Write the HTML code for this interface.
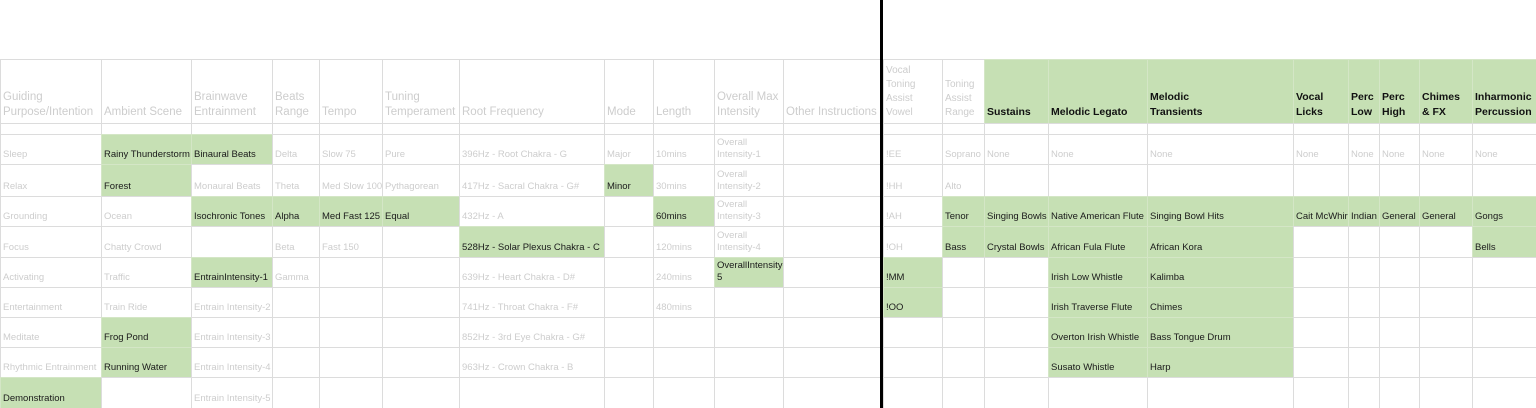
<!DOCTYPE html>
<html><head><meta charset="utf-8"><style>
html,body{margin:0;padding:0;background:#fff;}
body{width:1536px;height:408px;overflow:hidden;}
.grid{display:grid;grid-template-columns:101px 90px 81px 47px 63px 77px 145px 49px 61px 69px 97px 3px 59px 42px 64px 99px 146px 55px 31px 40px 53px 64px;grid-template-rows:59px 64px 11px 30px 32px 30px 31px 30px 30px 30px 30px 31px;width:1536px;height:408px;font-family:"Liberation Sans",Arial,sans-serif;font-size:9.5px;}
.grid>div{box-sizing:border-box;border-left:1px solid #dcdcdc;border-top:1px solid #dcdcdc;padding:0 2px 3px 2px;display:flex;align-items:flex-end;overflow:hidden;color:#cdcdcd;line-height:12px;white-space:nowrap;}
.grid>div.w{white-space:normal;}
.grid>div.g{background:#c6e0b4;color:#1a1a1a;border-color:#d4e6c6;}
.grid>div.k{background:#000;border:none;padding:0;}
.grid>div.t{border:none;}
.grid>div.h{font-size:11.5px;line-height:15px;white-space:normal;}
.grid>div.h.g{font-weight:bold;font-size:10.5px;color:#111;}
.grid>div.hs{font-size:10px;line-height:14px;white-space:normal;}
</style></head><body>
<div class="grid">
<div class="t"></div><div class="t"></div><div class="t"></div><div class="t"></div><div class="t"></div><div class="t"></div><div class="t"></div><div class="t"></div><div class="t"></div><div class="t"></div><div class="t"></div><div class="k"></div><div class="t"></div><div class="t"></div><div class="t"></div><div class="t"></div><div class="t"></div><div class="t"></div><div class="t"></div><div class="t"></div><div class="t"></div><div class="t"></div>

<div class="h">Guiding Purpose/Intention</div><div class="h">Ambient Scene</div><div class="h">Brainwave Entrainment</div><div class="h">Beats Range</div><div class="h">Tempo</div><div class="h">Tuning Temperament</div><div class="h">Root Frequency</div><div class="h">Mode</div><div class="h">Length</div><div class="h">Overall Max Intensity</div><div class="h">Other Instructions</div><div class="k"></div><div class="hs">Vocal Toning Assist Vowel</div><div class="hs">Toning Assist Range</div><div class="h g">Sustains</div><div class="h g">Melodic Legato</div><div class="h g">Melodic<br>Transients</div><div class="h g">Vocal Licks</div><div class="h g">Perc Low</div><div class="h g">Perc High</div><div class="h g">Chimes &amp; FX</div><div class="h g">Inharmonic Percussion</div>

<div></div><div></div><div></div><div></div><div></div><div></div><div></div><div></div><div></div><div></div><div></div><div class="k"></div><div></div><div></div><div></div><div></div><div></div><div></div><div></div><div></div><div></div><div></div>

<div>Sleep</div><div class="g">Rainy Thunderstorm</div><div class="g">Binaural Beats</div><div>Delta</div><div>Slow 75</div><div>Pure</div><div>396Hz - Root Chakra - G</div><div>Major</div><div>10mins</div><div class="w">Overall Intensity-1</div><div></div><div class="k"></div><div>!EE</div><div>Soprano</div><div>None</div><div>None</div><div>None</div><div>None</div><div>None</div><div>None</div><div>None</div><div>None</div>

<div>Relax</div><div class="g">Forest</div><div>Monaural Beats</div><div>Theta</div><div>Med Slow 100</div><div>Pythagorean</div><div>417Hz - Sacral Chakra - G#</div><div class="g">Minor</div><div>30mins</div><div class="w">Overall Intensity-2</div><div></div><div class="k"></div><div>!HH</div><div>Alto</div><div></div><div></div><div></div><div></div><div></div><div></div><div></div><div></div>

<div>Grounding</div><div>Ocean</div><div class="g">Isochronic Tones</div><div class="g">Alpha</div><div class="g">Med Fast 125</div><div class="g">Equal</div><div>432Hz - A</div><div></div><div class="g">60mins</div><div class="w">Overall Intensity-3</div><div></div><div class="k"></div><div>!AH</div><div class="g">Tenor</div><div class="g">Singing Bowls</div><div class="g">Native American Flute</div><div class="g">Singing Bowl Hits</div><div class="g">Cait McWhir</div><div class="g">Indian</div><div class="g">General</div><div class="g">General</div><div class="g">Gongs</div>

<div>Focus</div><div>Chatty Crowd</div><div></div><div>Beta</div><div>Fast 150</div><div></div><div class="g">528Hz - Solar Plexus Chakra - C</div><div></div><div>120mins</div><div class="w">Overall Intensity-4</div><div></div><div class="k"></div><div>!OH</div><div class="g">Bass</div><div class="g">Crystal Bowls</div><div class="g">African Fula Flute</div><div class="g">African Kora</div><div></div><div></div><div></div><div></div><div class="g">Bells</div>

<div>Activating</div><div>Traffic</div><div class="g">EntrainIntensity-1</div><div>Gamma</div><div></div><div></div><div>639Hz - Heart Chakra - D#</div><div></div><div>240mins</div><div class="g w">OverallIntensity-5</div><div></div><div class="k"></div><div class="g">!MM</div><div></div><div></div><div class="g">Irish Low Whistle</div><div class="g">Kalimba</div><div></div><div></div><div></div><div></div><div></div>

<div>Entertainment</div><div>Train Ride</div><div>Entrain Intensity-2</div><div></div><div></div><div></div><div>741Hz - Throat Chakra - F#</div><div></div><div>480mins</div><div></div><div></div><div class="k"></div><div class="g">!OO</div><div></div><div></div><div class="g">Irish Traverse Flute</div><div class="g">Chimes</div><div></div><div></div><div></div><div></div><div></div>

<div>Meditate</div><div class="g">Frog Pond</div><div>Entrain Intensity-3</div><div></div><div></div><div></div><div>852Hz - 3rd Eye Chakra - G#</div><div></div><div></div><div></div><div></div><div class="k"></div><div></div><div></div><div></div><div class="g">Overton Irish Whistle</div><div class="g">Bass Tongue Drum</div><div></div><div></div><div></div><div></div><div></div>

<div>Rhythmic Entrainment</div><div class="g">Running Water</div><div>Entrain Intensity-4</div><div></div><div></div><div></div><div>963Hz - Crown Chakra - B</div><div></div><div></div><div></div><div></div><div class="k"></div><div></div><div></div><div></div><div class="g">Susato Whistle</div><div class="g">Harp</div><div></div><div></div><div></div><div></div><div></div>

<div class="g">Demonstration</div><div></div><div>Entrain Intensity-5</div><div></div><div></div><div></div><div></div><div></div><div></div><div></div><div></div><div class="k"></div><div></div><div></div><div></div><div></div><div></div><div></div><div></div><div></div><div></div><div></div>
</div>
</body></html>
